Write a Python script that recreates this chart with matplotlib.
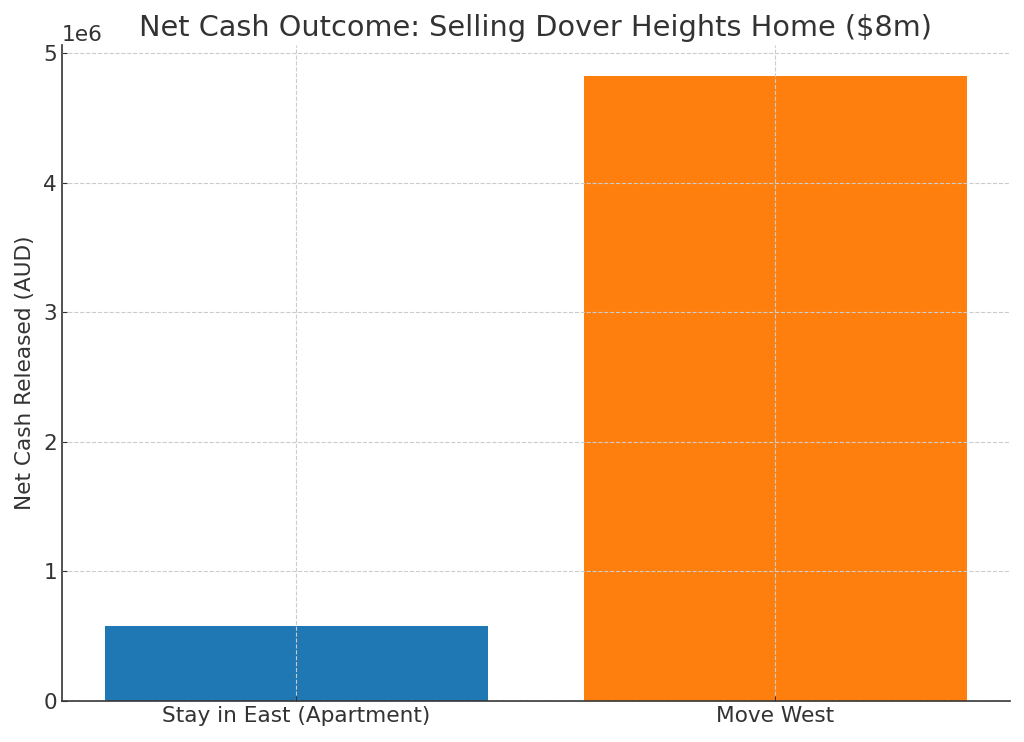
import matplotlib
matplotlib.use("Agg")
import matplotlib.pyplot as plt

# Data
options = ["Stay in East (Apartment)", "Move West"]
net_cash = [580000, 4820000]
colors = ["#1f77b4", "#ff7f0e"]

plt.rcParams["text.color"] = "#333333"
plt.rcParams["axes.labelcolor"] = "#333333"
plt.rcParams["xtick.color"] = "#333333"
plt.rcParams["ytick.color"] = "#333333"

fig = plt.figure(figsize=(10.24, 7.42), dpi=100)
ax = fig.add_axes([0.0605, 0.0553, 0.9255, 0.8837])

ax.bar(options, net_cash, color=colors)

ax.set_title("Net Cash Outcome: Selling Dover Heights Home ($8m)", fontsize=20.7, pad=7)
ax.set_ylabel("Net Cash Released (AUD)", fontsize=15.6, labelpad=6)
ax.tick_params(axis="both", direction="in", labelsize=15.6, color="#333333")
ax.grid(True, linestyle="--", color="#cccccc", linewidth=0.8)
ax.set_axisbelow(False)

for side in ["top", "right"]:
    ax.spines[side].set_visible(False)
for side in ["left", "bottom"]:
    ax.spines[side].set_color("#333333")
    ax.spines[side].set_linewidth(1.2)

ax.yaxis.get_offset_text().set_fontsize(15.6)

fig.savefig("out.png", dpi=100)
